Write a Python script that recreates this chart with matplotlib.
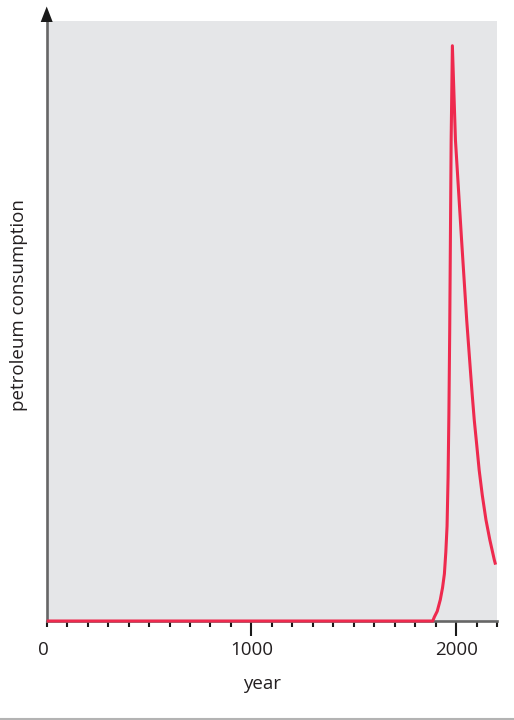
import matplotlib
matplotlib.use("Agg")
import matplotlib.pyplot as plt
from matplotlib.patches import Polygon
from matplotlib.lines import Line2D
from matplotlib.ticker import MultipleLocator, FixedLocator
import matplotlib.transforms as mtransforms

# Petroleum consumption over the course of human history (relative units)
years = [0, 1886, 1894, 1908, 1923, 1934, 1943, 1950, 1956, 1961, 1965,
         1969, 1976, 1982, 1997, 2027, 2052, 2070, 2079, 2089, 2101, 2113,
         2128, 2146, 2165, 2187, 2193]
consumption = [0.0, 0.0, 0.007, 0.017, 0.037, 0.058, 0.082, 0.12, 0.165, 0.25, 0.36,
               0.506, 0.836, 1.0, 0.836, 0.662, 0.523, 0.436, 0.393, 0.349, 0.306, 0.262,
               0.219, 0.176, 0.141, 0.106, 0.098]

major_ticks = [0, 1000, 2000]
major_labels = ["", "1000", "2000"]
origin_label = "0"
x_label = "year"
y_label = "petroleum consumption"

W, H = 514, 720
font = ["Open Sans", "DejaVu Sans"]
plt.rcParams["font.family"] = font
text_color = "#231f20"

fig = plt.figure(figsize=(W / 100, H / 100), dpi=100)
ax = fig.add_axes([46.7 / W, 99 / H, (497 - 46.7) / W, 600 / H])
ax.set_facecolor("#e5e6e8")

ax.plot(years, consumption, color="#ee2a4e", lw=2.2, clip_on=False,
        zorder=5, solid_joinstyle="round", solid_capstyle="butt")

ax.set_xlim(0, 2200)
ax.set_ylim(0, 1.043)

for side in ("top", "right"):
    ax.spines[side].set_visible(False)
for side in ("left", "bottom"):
    ax.spines[side].set_color("#666666")
    ax.spines[side].set_linewidth(1.9)

tick_len, tick_pad = 11, 3.5
ax.set_yticks([])
ax.xaxis.set_major_locator(FixedLocator(major_ticks))
ax.set_xticklabels(major_labels)
ax.xaxis.set_minor_locator(MultipleLocator(100))
ax.tick_params(axis="x", which="major", direction="out", length=tick_len, width=1.5,
               color="#1a1a1a", labelsize=13.5, labelcolor=text_color, pad=tick_pad)
ax.tick_params(axis="x", which="minor", direction="out", length=4.3, width=1.5,
               color="#1a1a1a")
ax.xaxis.get_major_ticks()[0].tick1line.set_markersize(4.3)

# origin label, level with the other tick labels but nudged left of the corner
trans = mtransforms.offset_copy(ax.get_xaxis_transform(), fig=fig, x=-2.3,
                                y=-(tick_len + tick_pad), units="points")
ax.text(0, 0, origin_label, transform=trans, ha="center", va="top",
        fontsize=13.5, color=text_color)

# arrow head on the vertical axis
x0 = 46.7
tri = Polygon([[(x0 - 6) / W, (H - 22) / H], [(x0 + 6) / W, (H - 22) / H],
               [x0 / W, (H - 6.5) / H]], closed=True, transform=fig.transFigure,
              facecolor="#1a1a1a", edgecolor="none", zorder=10)
fig.add_artist(tri)

fig.text(262 / W, 1 - 684 / H, x_label, ha="center", va="center",
         fontsize=13.5, color=text_color)
fig.text(19 / W, 1 - 305 / H, y_label, ha="center", va="center",
         rotation=90, fontsize=13.5, color=text_color)

# thin rule along the bottom edge
fig.add_artist(Line2D([0, 1], [1.2 / H, 1.2 / H], transform=fig.transFigure,
                      color="#b3b3b3", lw=1.5))

fig.savefig("out.png", dpi=100)
